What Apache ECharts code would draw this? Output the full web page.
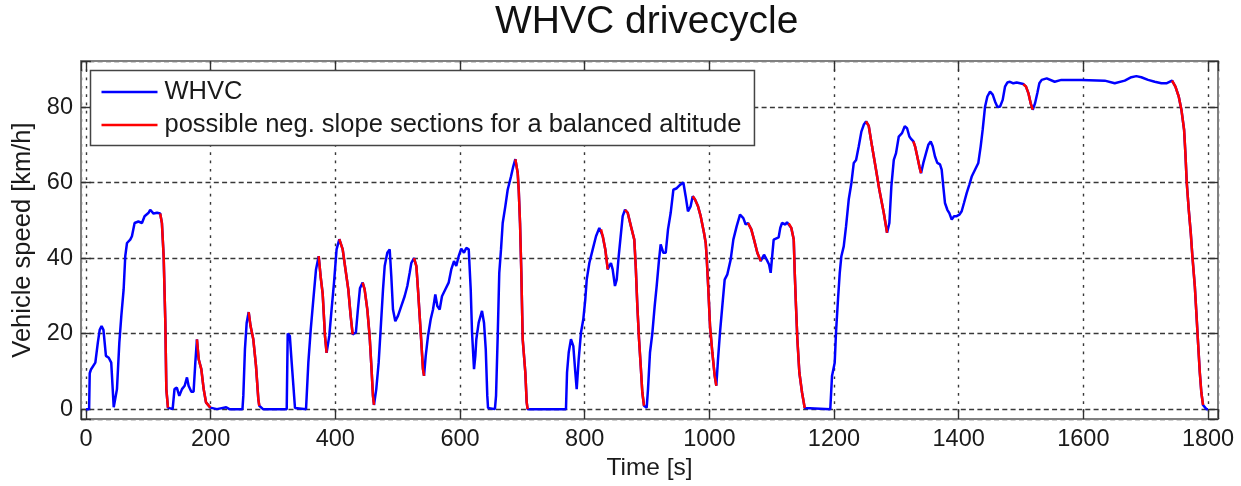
<!DOCTYPE html>
<html><head><meta charset="utf-8">
<script src="https://cdn.jsdelivr.net/npm/echarts@6/dist/echarts.min.js"></script>
<style>html,body{margin:0;padding:0;background:#fff}#c{width:1241px;height:486px}</style>
</head><body><div id="c"></div>
<script>
// Time [s]
const time = [0,5,6,8,15,19,22,25,28,32,36.5,40.5,44.5,47,49.7,53.5,56.7,60.4,63,65.8,71,73.7,78,84,89.8,94,100.5,103,108.4,114,
119,121.8,124.6,127.3,128.9,131.5,139,142,145.7,149.7,154,158.3,162,164.6,169,172.6,175.4,
178,180.8,185,188.8,192.5,199.5,210,225,230,251,252.4,255,257.8,
261,264,268.4,272.7,276.5,278,284,322,323.6,327,330,335.3,353,356.7,360.5,364.7,369,
373.3,376.5,379.7,383.4,386,390.3,394,397.9,402,
406.4,411.8,415.5,420.8,424.6,427.8,433,436,439.5,
443.8,447,451.3,455,457.8,460.4,462,465.7,469.5,472.7,476.5,479.2,483.4,487.2,489.8,492.5,496.2,500.5,505.8,511.2,515.5,519.3,521.9,
526.2,530,532.6,535.3,538,540.6,542.3,545,548.7,553,556.7,560.4,563.6,567.4,571.1,576.4,581.8,586,590.4,594,597.9,602,606.4,610,614,617.2,619.3,622.5,624.6,626.2,630,635.3,638.5,641.3,643.8,645,656,657.8,660.5,663,665.8,668.5,672.7,676.5,681.8,685.5,
688.8,692.6,694.2,696.3,698.4,700.6,704.8,707,708.5,770,771.7,774.4,778,781.8,785,787.2,790.4,794.1,797.8,801,803.3,807.5,812.9,818.2,823.5,
826.2,829,833.1,837,839.5,842.2,844.9,848.6,851.4,854.6,858.3,861,
864.7,869,874.3,879.6,881.9,884.5,887.2,889.9,892.5,895.2,899.5,901.6,904.8,908.5,912.3,915.5,919.3,921.9,926.2,930,933.7,938,942.3,947.7,953,958.3,962,965.7,970,
973.3,977,981.8,986.1,991.4,994.2,995.8,998,1001.1,1004.8,1008.6,1011.2,1013.9,1017.1,1020.8,1024.6,1028.9,1034.2,1038.5,1043.8,1049.2,1054.5,1058.3,
1062,1067.3,1071.7,1077,1082.4,1087.7,1092,1095.8,1098.4,1100.5,1103.2,1111.2,1113.8,1116.6,1119.3,1121.9,1124.6,
1127.3,1131.5,1135.4,1137,1139,1141.2,1144.4,1148.7,1153,1194,1196.8,1201.1,1203.2,1206.4,1209.2,1211.8,1215.6,1219.3,1223.6,1227.9,1231.7,1235.4,1239.7,1243.9,1247.7,
1251.4,1255.7,1261,1267.4,1272.7,1279.8,1285.1,1288.8,1292,1295.9,1299.5,1303.9,1309.1,1313.5,1317.2,1320.9,1324,
1327.3,1330,1333.6,1336.9,1339.6,1343.3,1347.6,1351.3,1355.1,1358.3,1362,1365.7,1370,1372.7,1375.3,1378,1381.8,1385,1388.8,1392.5,1396.8,1401,1404.8,1408.5,1412.8,1417,1420.9,1426.2,1431.5,1435.3,1438.5,1442.3,1446,1450.3,1454.6,1458.3,1462,1466.3,1470.6,1474.3,1478,1482.3,1487.7,1493,1498.4,
1503.7,1508,1511.8,1515.5,1518.8,1522.5,1526.2,1529.4,1533.2,1541.2,1554,1564.7,1596.8,1634.3,1650.3,1666.4,1677,1685,1693,1703.8,1714.5,1725.2,1733.2,
1742.3,1747.7,1753,1757.3,1761.6,1763.7,1765.9,1769.1,1772.3,1774.9,1778.8,1781.3,1784,1786.8,1789.3,1792,1797.4,1800];
// Vehicle speed [km/h]
const speed = [0,0,9.5,10.5,12.3,17.6,21,22,21,14.1,13.6,12.3,0.5,0,5.3,17.6,24.7,31.7,40.5,44,44.9,45.8,49.3,49.7,49.3,51.1,52,52.8,51.8,52,
51.8,49.3,40.5,22.9,5.3,0.4,0,5.3,5.7,3.5,5.3,6.2,8.4,6.2,4.6,4.6,12.3,
18.5,13.2,10.6,5.3,1.8,0.4,0,0.5,0,0,3.5,15.9,22.9,
25.7,22,18.5,11.5,2.6,0.9,0,0,20,19.4,12.3,0.3,0,12.3,21,29,37,
40.5,35,30.6,19.4,14.9,19.4,26.4,33.5,42.3,
45,42.3,37.9,31.7,24.7,19.8,20.3,26,32,
33.5,31.7,26.4,19.4,11.5,3.5,1.1,5.3,12.3,21.1,31.7,37.9,41.4,42.3,35.2,26.4,23.3,24.7,27.3,29.9,32.6,36.1,38.7,
40,37.9,31.7,24.7,17.6,10.6,8.8,14.1,19.4,23.8,26.4,30.4,27.3,26.4,29.9,31.7,33.5,37,39.2,37.9,40.5,42.5,41.4,42.7,42.3,31.7,20.3,10.6,14.1,18.5,22.9,26,22.9,15.9,3.5,0.3,0,3.5,19.4,36.1,42.3,49.3,53.7,58.1,61.6,64.3,
66.2,62.5,58.1,49.3,36.1,18.5,9.7,1.8,0,0,9.7,15,18.5,16.7,9.7,5.3,13.2,20.3,23.8,29.1,34.3,38.7,42.3,45.8,48,
47.6,45.8,42.3,37,37.9,38.7,37,32.6,34.3,40.5,46.7,51.1,
52.8,52,48.4,44.9,37.9,27.3,18.5,11.5,4.4,0.9,0.4,5.3,15,20,27.3,32.6,39.6,43.6,41.4,41.4,47.6,52,58.1,58.5,59.4,60,56.4,52.4,53.7,
56.4,55.5,53.7,51.1,46.7,44,40,33,22,15,8.8,6.2,13.2,20.3,27.3,34.3,35.7,39.6,44.9,48.4,51.5,50.6,48.9,
49.3,47.6,44.9,41.4,39.2,40.9,39.6,38.3,36.1,36.1,44.9,45.5,48,49.3,49.7,48.9,49.5,
49.2,48,44.9,36.1,27.3,18.5,9.7,4.4,0.3,0,8.8,12.3,20.3,29.1,36.1,40.5,43.1,48.4,55.5,59.9,65.2,66,69.6,73.5,75.3,
76.2,75,69.6,63.4,58.1,52,46.7,49.3,59,66,67.8,72.2,73.1,74.9,74.4,72.2,71.5,
70.9,69.6,66.9,64.3,62.5,65.2,67.8,70,70.9,69.6,66.9,65.2,64.8,63.4,59,54.6,52.8,51.9,50.2,51.1,51.1,51.5,52.4,54.6,57.2,59.4,61.6,63.4,65.2,69.6,74,80.1,82.8,84.1,83.3,81.5,80.1,80.1,81.9,85.4,86.5,86.7,86.3,86.5,86.3,
86.1,85.4,83.7,81,79.3,81,83.7,86.3,87.2,87.6,86.7,87.2,87.2,87,86.3,87,87.9,88.2,87.9,87.2,86.7,86.3,86.3,
87,85.4,82.8,79.3,74,67.8,59.9,52.8,46.7,40.5,32.6,25.5,17.6,9.7,4.4,1.1,0,0];
// Possible negative slope sections [start, end] in s
const negSlopeSections = [[119,131.5],[178,199.5],[261,278],[373.3,386],[406.4,427.8],[443.8,462],[526.2,542.3],[688.8,708.5],[826.2,837],[864.7,895.2],[973.3,1011.2],[1062,1082.4],[1127.3,1153],[1251.4,1285.1],[1327.3,1339.6],[1503.7,1518.8],[1742.3,1792]];
const xTickLabels = [0,200,400,600,800,1000,1200,1400,1600,1800];
const yTickLabels = [0,20,40,60,80];
const seriesNames = ['WHVC','possible neg. slope sections for a balanced altitude'];

const FONT = 'Liberation Sans, Arial, sans-serif';
const TXT = '#1a1a1a';
const inRed = t => negSlopeSections.some(([a,b]) => t >= a && t <= b);
const blueData = time.map((t,i) => [t, speed[i]]);
const redData = time.map((t,i) => [t, inRed(t) ? speed[i] : null]);

const frame = {show:true, onZero:false, lineStyle:{color:'#808080', width:2}};
const tick = {show:true, inside:true, length:10, lineStyle:{color:'#303030', width:1.4}};
const xBase = {type:'value', min:-8, max:1816, minInterval:200, maxInterval:200, axisLine:frame, axisTick:tick};
const yBase = {type:'value', min:-2.64, max:92.2, minInterval:20, maxInterval:20, axisLine:frame, axisTick:tick};

const chart = echarts.init(document.getElementById('c'), null, {renderer:'canvas'});
chart.setOption({
  animation:false,
  backgroundColor:'#fff',
  title:{text:'WHVC drivecycle', left:495, top:3, padding:0,
    textStyle:{fontSize:39, fontWeight:'normal', color:'#111', fontFamily:FONT}},
  legend:{data:seriesNames, orient:'vertical', left:90.5, top:70.5, icon:'rect', itemWidth:56, itemHeight:2.6, itemGap:7,
    padding:[8.5,13,7.5,11], borderColor:'#444', borderWidth:1.5, backgroundColor:'#fff', selectedMode:false,
    textStyle:{fontSize:25.5, color:TXT, fontFamily:FONT, padding:[0,0,0,2]}},
  grid:{left:81, top:61, width:1137, height:359, show:false},
  xAxis:[
    Object.assign({}, xBase, {position:'bottom', name:'Time [s]', nameLocation:'middle', nameGap:36,
      nameTextStyle:{fontSize:24.5, color:TXT, fontFamily:FONT},
      axisLabel:{margin:8, fontSize:23.5, color:TXT, fontFamily:FONT, formatter:v => xTickLabels.includes(v) ? String(v) : ''},
      splitLine:{show:true, lineStyle:{color:'#383838', width:1.4, type:[2.7,5.6]}}}),
    Object.assign({}, xBase, {position:'top', axisLabel:{show:false}, splitLine:{show:false}})
  ],
  yAxis:[
    Object.assign({}, yBase, {position:'left', name:'Vehicle speed [km/h]', nameLocation:'middle', nameGap:45,
      nameTextStyle:{fontSize:25.5, color:TXT, fontFamily:FONT},
      axisLabel:{margin:8, fontSize:23.5, color:TXT, fontFamily:FONT, formatter:v => yTickLabels.includes(v) ? String(v) : ''},
      splitLine:{show:true, lineStyle:{color:'#383838', width:1.4, type:[5,3.3]}}}),
    Object.assign({}, yBase, {position:'right', axisLabel:{show:false}, splitLine:{show:false}})
  ],
  series:[
    {name:seriesNames[0], type:'line', data:blueData, xAxisIndex:0, yAxisIndex:0, symbol:'none', showSymbol:false,
      lineStyle:{color:'#0000ff', width:2.5}, itemStyle:{color:'#0000ff'}, z:3},
    {name:seriesNames[1], type:'line', data:redData, xAxisIndex:0, yAxisIndex:0, symbol:'none', showSymbol:false, connectNulls:false,
      lineStyle:{color:'#ff0000', width:2.5}, itemStyle:{color:'#ff0000'}, z:4}
  ]
});
</script></body></html>
